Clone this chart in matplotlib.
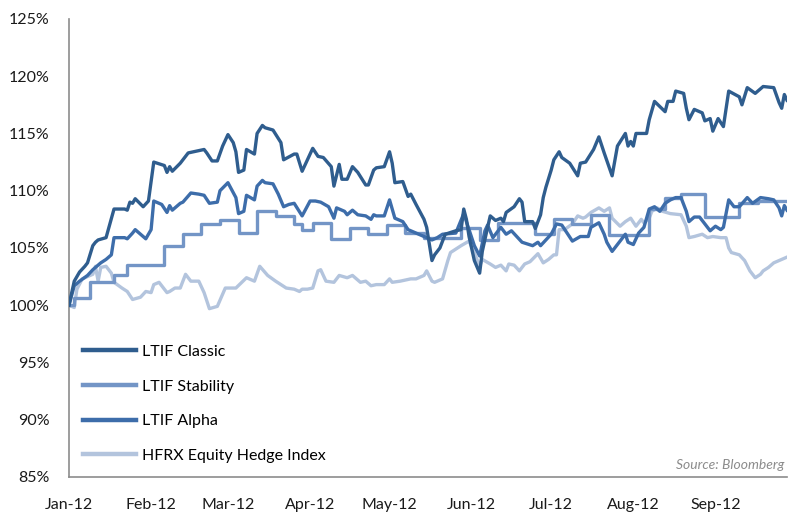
import numpy as np
import matplotlib
matplotlib.use("Agg")
import matplotlib.pyplot as plt
import matplotlib.dates as mdates
from matplotlib.ticker import FuncFormatter

plt.rcParams['font.family'] = ['Lato', 'DejaVu Sans']

START = np.datetime64('2012-01-01')

# ---- data: day offsets from 2012-01-01 and index levels (%) ----
classic_days = [0, 2, 4, 6, 7, 9, 10, 11, 14, 17, 21, 22, 23, 24, 25, 28, 30, 32, 36, 37, 38, 39,
                42, 45, 47, 51, 52, 54, 56, 58, 60, 62, 63, 64, 66, 67, 70, 71, 73, 74, 77, 80, 81,
                85, 86, 88, 92, 94, 96, 99, 100, 102, 103, 105, 107, 109, 112, 113, 115, 116, 119,
                121, 122, 123, 126, 128, 129, 131, 134, 135, 137, 138, 140, 142, 146, 148, 149, 150,
                151, 153, 155, 156, 158, 159, 161, 163, 164, 165, 168, 170, 171, 172, 175, 176, 178,
                179, 180, 182, 183, 185, 186, 189, 192, 193, 195, 198, 200, 202, 205, 207, 210, 211,
                212, 213, 214, 218, 219, 221, 225, 226, 228, 229, 232, 233, 234, 236, 239, 240, 242,
                243, 245, 247, 249, 253, 254, 256, 259, 262, 266, 268, 269, 270, 271]
classic_vals = [100.0, 102.1, 102.9, 103.4, 103.7, 105.2, 105.5, 105.7, 105.9, 108.4, 108.4, 108.3,
                109.0, 108.9, 109.3, 108.6, 109.1, 112.5, 112.2, 111.6, 112.1, 111.7, 112.4, 113.3,
                113.4, 113.6, 113.3, 112.6, 112.6, 113.9, 114.9, 114.2, 113.4, 111.6, 111.8, 113.6,
                113.2, 115.0, 115.7, 115.5, 115.3, 114.2, 112.7, 113.2, 113.2, 111.7, 113.7, 113.0,
                112.9, 112.1, 110.4, 112.3, 111.0, 111.0, 112.1, 111.6, 110.5, 110.5, 111.8, 112.0,
                112.1, 113.4, 112.4, 110.7, 110.8, 109.5, 109.7, 108.8, 107.5, 106.8, 103.9, 104.4,
                105.0, 106.2, 106.5, 106.6, 108.4, 107.5, 106.0, 103.9, 102.8, 104.7, 106.8, 107.8,
                107.4, 107.6, 107.3, 108.1, 108.6, 109.3, 109.0, 107.3, 107.3, 106.7, 107.9, 109.4,
                110.3, 111.8, 112.7, 113.4, 112.9, 112.4, 111.3, 112.4, 112.5, 113.6, 114.7, 113.3,
                111.3, 113.9, 115.0, 113.9, 114.3, 113.9, 115.0, 115.0, 116.2, 117.8, 116.9, 117.8,
                117.8, 118.7, 118.5, 117.2, 116.2, 117.1, 116.8, 116.1, 116.3, 115.2, 116.3, 115.6,
                118.7, 118.2, 117.5, 119.0, 118.5, 119.1, 119.0, 117.7, 117.2, 118.4, 117.9]

stability_days = [0, 2, 8, 17, 22, 36, 43, 50, 57, 64, 71, 78, 85, 88, 92, 99, 106, 113, 120, 127,
                  134, 148, 155, 162, 176, 183, 190, 197, 204, 219, 225, 231, 240, 253, 260, 271]
stability_vals = [100.0, 100.6, 102.0, 102.6, 103.5, 105.2, 106.2, 107.1, 107.4, 106.3, 108.2, 107.8,
                  107.1, 106.6, 107.2, 105.8, 106.7, 106.2, 107.0, 106.3, 105.9, 106.7, 105.7, 107.2,
                  106.2, 107.5, 107.1, 107.9, 106.1, 108.4, 109.4, 109.7, 107.7, 108.9, 109.1, 109.1]

alpha_days = [0, 2, 4, 7, 9, 12, 14, 16, 17, 21, 22, 24, 25, 29, 31, 32, 35, 37, 38, 39, 42, 43,
              46, 49, 51, 53, 56, 57, 60, 63, 64, 66, 67, 70, 71, 73, 74, 77, 79, 81, 83, 85, 88,
              91, 93, 95, 98, 100, 101, 104, 105, 107, 109, 112, 114, 115, 116, 119, 121, 123, 126,
              128, 131, 135, 137, 139, 141, 146, 149, 151, 153, 155, 157, 158, 160, 163, 165, 167,
              171, 175, 177, 178, 180, 182, 184, 186, 188, 190, 193, 196, 197, 200, 202, 203, 205,
              207, 210, 211, 213, 215, 217, 219, 221, 223, 225, 227, 229, 231, 233, 234, 236, 238,
              240, 242, 244, 246, 247, 249, 251, 253, 256, 258, 261, 264, 266, 268, 269, 270, 271]
alpha_vals = [100.0, 101.7, 102.1, 102.6, 103.1, 103.7, 104.0, 104.4, 105.9, 105.9, 105.8, 106.3,
              106.6, 105.8, 106.6, 109.1, 108.8, 108.1, 108.7, 108.3, 108.9, 109.0, 109.8, 109.7,
              109.6, 108.9, 109.0, 110.0, 110.7, 109.4, 108.0, 108.2, 109.6, 109.2, 110.4, 110.9,
              110.7, 110.6, 109.7, 108.6, 108.8, 108.9, 107.8, 109.1, 109.1, 109.0, 108.6, 107.6,
              108.5, 108.2, 107.9, 108.3, 107.9, 107.8, 107.5, 107.9, 107.8, 107.8, 109.2, 107.6,
              107.3, 106.6, 106.3, 105.9, 105.7, 105.9, 106.2, 106.3, 108.0, 106.6, 105.2, 104.3,
              106.5, 107.0, 105.9, 106.8, 106.2, 106.5, 105.5, 105.2, 105.5, 105.2, 105.7, 106.2,
              107.1, 107.0, 106.3, 105.6, 106.0, 106.0, 106.8, 107.2, 106.2, 105.5, 104.7, 105.3,
              106.2, 105.5, 105.3, 106.3, 106.8, 108.4, 108.6, 108.2, 108.9, 109.2, 109.4, 109.4,
              108.2, 107.3, 107.7, 107.7, 107.1, 106.5, 106.9, 106.6, 106.8, 109.2, 108.6, 108.6,
              109.4, 108.9, 109.4, 109.3, 109.2, 108.5, 107.8, 108.7, 108.3]

hfrx_days = [0, 2, 3, 5, 9, 10, 11, 12, 14, 16, 17, 20, 22, 24, 27, 29, 31, 32, 34, 37, 38, 40, 42,
             44, 46, 49, 51, 53, 56, 59, 63, 67, 70, 72, 75, 78, 80, 82, 85, 87, 88, 90, 92, 94, 95,
             97, 100, 102, 105, 107, 110, 112, 114, 116, 119, 121, 122, 125, 129, 131, 134, 135, 137,
             138, 141, 143, 144, 146, 148, 151, 153, 155, 156, 159, 161, 163, 165, 166, 168, 170,
             172, 174, 177, 179, 181, 183, 184, 185, 187, 190, 192, 194, 195, 197, 200, 202, 204,
             205, 208, 210, 212, 214, 216, 217, 219, 220, 222, 224, 227, 231, 233, 234, 236, 239,
             241, 243, 246, 248, 249, 250, 253, 255, 257, 259, 261, 262, 264, 266, 268, 271]
hfrx_vals = [100.0, 99.8, 101.4, 102.3, 102.7, 103.4, 102.1, 103.3, 103.4, 102.8, 102.0, 101.5,
             101.2, 100.5, 100.7, 101.2, 101.1, 101.8, 102.0, 101.1, 101.2, 101.5, 101.5, 102.7,
             102.1, 102.1, 101.1, 99.7, 99.9, 101.5, 101.5, 102.4, 102.1, 103.4, 102.6, 102.1,
             101.8, 101.5, 101.4, 101.2, 101.4, 101.4, 101.5, 103.0, 103.1, 102.1, 102.0, 102.6,
             102.4, 102.6, 102.0, 102.1, 101.7, 101.8, 101.8, 102.3, 102.0, 102.1, 102.3, 102.3,
             102.6, 103.0, 102.1, 102.0, 102.3, 103.9, 104.6, 104.9, 105.2, 105.6, 104.6, 103.4,
             104.0, 103.6, 103.3, 103.5, 103.0, 103.6, 103.5, 103.0, 103.6, 103.8, 104.5, 103.7,
             104.0, 104.4, 104.4, 106.6, 106.6, 107.1, 107.8, 107.6, 107.7, 108.1, 108.5, 108.2,
             108.5, 107.6, 106.9, 107.3, 107.6, 106.9, 107.5, 107.2, 107.6, 108.2, 108.5, 108.2,
             108.0, 107.9, 106.9, 105.9, 106.0, 106.2, 105.9, 106.0, 105.9, 105.9, 105.0, 104.6,
             104.4, 103.9, 103.0, 102.4, 102.7, 103.0, 103.3, 103.7, 103.9, 104.2]

series_names = ["LTIF Classic", "LTIF Stability", "LTIF Alpha", "HFRX Equity Hedge Index"]
y_ticks = [85, 90, 95, 100, 105, 110, 115, 120, 125]
month_ticks = ["2012-01-01", "2012-02-01", "2012-03-01", "2012-04-01", "2012-05-01",
               "2012-06-01", "2012-07-01", "2012-08-01", "2012-09-01"]
source_text = "Source: Bloomberg"

colors = ["#2F5D8E", "#7395C6", "#3D6DAA", "#B3C4DD"]


def to_dates(days):
    return START + np.array(days, dtype='timedelta64[D]')


fig = plt.figure(figsize=(7.9, 5.12), dpi=100)
ax = fig.add_axes([0.0873, 0.0684, 0.9089, 0.8946])

ax.plot(to_dates(hfrx_days), hfrx_vals, color=colors[3], lw=2.4, label=series_names[3], zorder=2,
        solid_joinstyle='round')
ax.plot(to_dates(stability_days), stability_vals, color=colors[1], lw=2.4, label=series_names[1],
        drawstyle='steps-post', zorder=3)
ax.plot(to_dates(alpha_days), alpha_vals, color=colors[2], lw=2.4, label=series_names[2], zorder=4,
        solid_joinstyle='round')
ax.plot(to_dates(classic_days), classic_vals, color=colors[0], lw=2.4, label=series_names[0], zorder=5,
        solid_joinstyle='round')

ax.set_xlim(np.datetime64('2012-01-01'), np.datetime64('2012-09-28'))
ax.set_ylim(85, 125)
ax.set_yticks(y_ticks)
ax.yaxis.set_major_formatter(FuncFormatter(lambda v, p: f"{v:.0f}%"))
ax.set_xticks([np.datetime64(m) for m in month_ticks])
ax.xaxis.set_major_formatter(mdates.DateFormatter('%b-%y'))

for s in ['top', 'right']:
    ax.spines[s].set_visible(False)
for s in ['left', 'bottom']:
    ax.spines[s].set_color('#8C8C8C')
    ax.spines[s].set_linewidth(1.2)
ax.tick_params(axis='both', length=0, labelsize=11.5, colors='#1A1A1A')
ax.tick_params(axis='y', pad=14)
ax.tick_params(axis='x', pad=15)

handles, labels = ax.get_legend_handles_labels()
order = [labels.index(n) for n in series_names]
leg = ax.legend([handles[i] for i in order], [labels[i] for i in order],
                loc='lower left', bbox_to_anchor=(0.020, 0.031), frameon=False,
                fontsize=11.5, handlelength=3.3, handletextpad=0.35, labelspacing=1.28,
                borderaxespad=0, borderpad=0)
for line in leg.get_lines():
    line.set_linewidth(3.2)
    line.set_drawstyle('default')

ax.text(0.997, 0.012, source_text, transform=ax.transAxes, ha='right', va='bottom',
        fontsize=10, style='italic', color='#8C8C8C')

fig.savefig("out.png", dpi=100)
